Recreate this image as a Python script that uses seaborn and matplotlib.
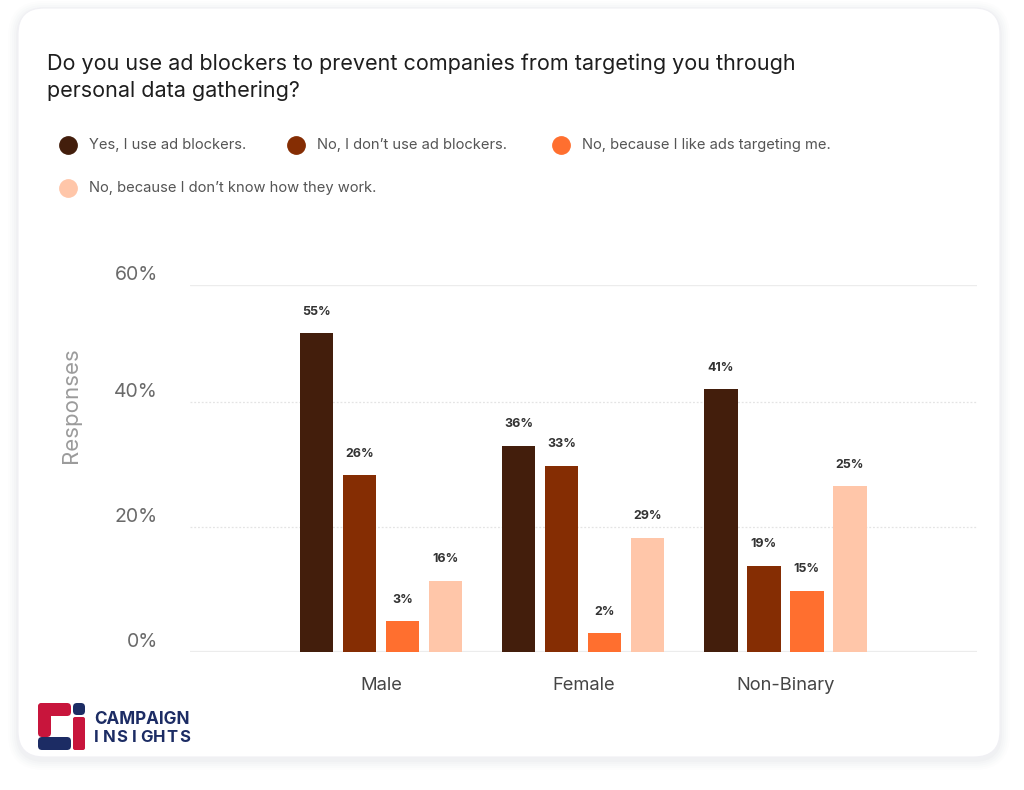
import matplotlib
matplotlib.use("Agg")
import matplotlib.pyplot as plt
import seaborn as sns
import pandas as pd
from matplotlib.patches import FancyBboxPatch
from matplotlib.transforms import IdentityTransform, ScaledTranslation
from matplotlib.lines import Line2D

# ---------------- data ----------------
groups = ["Male", "Female", "Non-Binary"]
answers = [
    "Yes, I use ad blockers.",
    "No, I don\u2019t use ad blockers.",
    "No, because I like ads targeting me.",
    "No, because I don\u2019t know how they work.",
]
# bar heights as drawn in the reference
yes_bar = [51.0, 33.0, 42.0]
no_bar = [28.3, 29.8, 13.8]
like_bar = [4.9, 3.0, 9.8]
dontknow_bar = [11.4, 18.3, 26.5]
# value labels printed above bars
yes_label = [55, 36, 41]
no_label = [26, 33, 19]
like_label = [3, 2, 15]
dontknow_label = [16, 29, 25]
y_tick_labels = ["0%", "20%", "40%", "60%"]
colors = ["#431e0c", "#852d03", "#ff6f2f", "#ffc6a9"]

title = ("Do you use ad blockers to prevent companies from targeting you through\n"
         "personal data gathering?")

rows = []
for ans, vals in zip(answers, [yes_bar, no_bar, like_bar, dontknow_bar]):
    for g, v in zip(groups, vals):
        rows.append({"group": g, "answer": ans, "value": v})
df = pd.DataFrame(rows)
labels_all = [yes_label, no_label, like_label, dontknow_label]

# ---------------- style ----------------
sns.set_theme(style="white")
plt.rcParams["font.family"] = ["Inter", "DejaVu Sans"]

W, H = 1024, 790
fig = plt.figure(figsize=(W / 100, H / 100), dpi=100)
fig.patch.set_facecolor("white")

# card shadow + card
for i, a in enumerate([0.012, 0.015, 0.02, 0.025, 0.03]):
    grow = 10 - 2 * i
    sh = FancyBboxPatch((18 - grow, 33 - grow - 3), 982 + 2 * grow, 749 + 2 * grow,
                        boxstyle="round,pad=0,rounding_size=%d" % (26 + grow),
                        transform=IdentityTransform(), facecolor="#7a7f99",
                        edgecolor="none", alpha=a, zorder=0)
    fig.add_artist(sh)
card = FancyBboxPatch((18, 33), 982, 749, boxstyle="round,pad=0,rounding_size=26",
                      transform=IdentityTransform(), facecolor="white",
                      edgecolor="#f0f0f4", linewidth=0.8, zorder=0.5)
fig.add_artist(card)

ax = fig.add_axes([190 / W, 138 / H, 787 / W, 367 / H])
ax.set_zorder(2)
ax.set_facecolor("none")

sns.barplot(data=df, x="group", y="value", hue="answer", hue_order=answers,
            order=groups, palette=colors, saturation=1, width=0.851, gap=0.22,
            errorbar=None, linewidth=0, legend=False, ax=ax, zorder=3)

ax.set_xlim(-0.945, 2.948)
ax.set_ylim(0, 58.7)
ax.set_yticks([0, 20, 40, 58.7])
ax.set_yticklabels(y_tick_labels)
for s in ax.spines.values():
    s.set_visible(False)

ax.yaxis.grid(True, zorder=0)
ax.set_axisbelow(True)
gls = ax.get_ygridlines()
for i, gl in enumerate(gls):
    if i == 0:
        gl.set(color="#ececec", linewidth=1.6, linestyle="-")
    elif i == len(gls) - 1:
        gl.set(color="#ececec", linewidth=1.0, linestyle="-")
    else:
        gl.set(color="#e4e4e4", linewidth=0.9, linestyle=(0, (1.5, 1.5)))

ax.tick_params(axis="y", length=0, pad=23, labelsize=14, labelcolor="#6a6a6a")
ax.tick_params(axis="x", length=0, pad=18, labelsize=13.2, labelcolor="#454545")
for lab in ax.get_yticklabels():
    lab.set_transform(lab.get_transform() + ScaledTranslation(0, 0.12, fig.dpi_scale_trans))

ax.set_xlabel("")
ax.set_ylabel("Responses", fontsize=16, color="#9b9b9b")
ax.yaxis.set_label_coords(-0.138, 0.672)

for cont, labs in zip(ax.containers, labels_all):
    ax.bar_label(cont, labels=[f"{v}%" for v in labs], padding=11,
                 fontsize=9, fontweight="bold", color="#333333")

# title
fig.text(47 / W, 1 - 53 / H, title, ha="left", va="top", fontsize=15.5,
         color="#1e1e1e", linespacing=1.45)

# legend (flow layout)
row1 = [(68, 145, 0), (296, 145, 1), (561, 145, 2)]
row2 = [(68, 188, 3)]
for (x, y, k) in row1 + row2:
    fig.add_artist(Line2D([x / W], [1 - y / H], marker="o", markersize=12.5,
                          color=colors[k], linestyle="none", transform=fig.transFigure))
    fig.text((x + 21) / W, 1 - y / H, answers[k], ha="left", va="center",
             fontsize=10.6, color="#555555")

# logo
def rect(x0, y0, x1, y1, c, r=0):
    p = FancyBboxPatch((x0, H - y1), x1 - x0, y1 - y0,
                       boxstyle="round,pad=0,rounding_size=%g" % r if r else "square,pad=0",
                       transform=IdentityTransform(), facecolor=c, edgecolor="none", zorder=2)
    fig.add_artist(p)

red, navy = "#c8153c", "#1c2c64"
rect(38, 703, 71, 716, red, 4)
rect(38, 703, 51, 737, red, 4)
rect(38, 737, 71, 750, navy, 4)
rect(73, 703, 85, 715, navy, 4)
rect(73, 717, 85, 750, red, 2)
fig.text(94 / W, 1 - 720 / H, "CAMPAIGN", ha="left", va="center", fontsize=12.3,
         fontweight="bold", color=navy)
ins = "INSIGHTS"
for i, ch in enumerate(ins):
    fig.text((96.5 + i * 12.6) / W, 1 - 737 / H, ch, ha="center", va="center",
             fontsize=12, fontweight="bold", color=navy)

fig.savefig("out.png", dpi=100)
